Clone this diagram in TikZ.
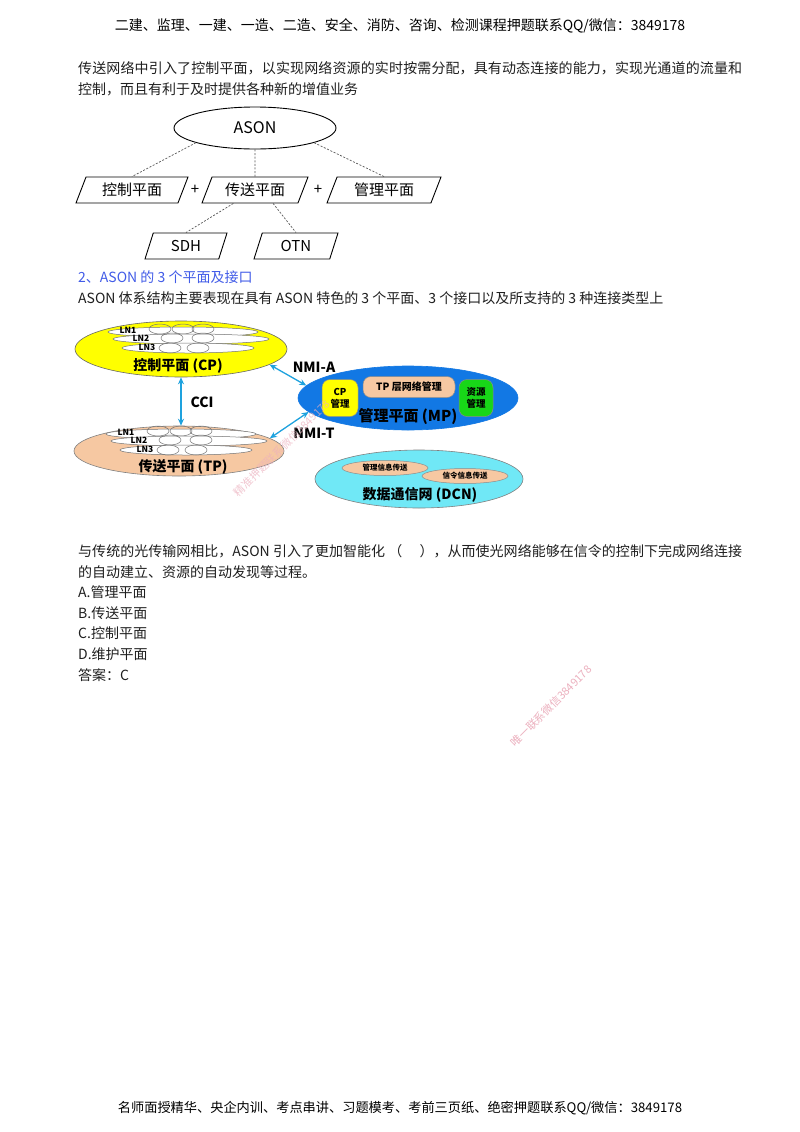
\documentclass[tikz,border=0pt]{standalone}
\usepackage{fontspec}
\setmainfont{Noto Sans CJK SC}
\usetikzlibrary{arrows.meta,shapes.geometric,calc}
\XeTeXlinebreaklocale "zh"
\XeTeXlinebreakskip=0pt plus 1pt

\definecolor{cpyellow}{RGB}{255,255,0}
\definecolor{tppeach}{RGB}{246,200,162}
\definecolor{mpblue}{RGB}{18,120,228}
\definecolor{resgreen}{RGB}{24,214,24}
\definecolor{dcncyan}{RGB}{112,232,246}
\definecolor{ifaceblue}{RGB}{30,162,222}
\definecolor{headblue}{RGB}{66,92,232}
\definecolor{wmpink}{RGB}{236,176,190}

\tikzset{
  headline/.style={inner sep=0pt, font=\fontsize{14bp}{14bp}\selectfont},
  bodytext/.style={anchor=west, inner sep=0pt, text=black!88,
    font=\fontsize{14bp}{21bp}\selectfont},
  plane/.style={draw, line width=0.9bp, trapezium, trapezium left angle=54,
    trapezium right angle=126, trapezium stretches body, minimum height=26bp,
    inner sep=0pt, font=\fontsize{15bp}{15bp}\selectfont},
  dashline/.style={draw=black!65, dash pattern=on 2bp off 1.6bp, line width=0.7bp},
  layer/.style={ellipse, draw=black!50, line width=0.6bp, inner sep=0pt},
  lnband/.style={fill=white, draw=black!55, line width=0.5bp},
  bubble/.style={draw=black!55, line width=0.5bp},
  lntag/.style={inner sep=0pt, font=\bfseries\fontsize{8.5bp}{8.5bp}\selectfont},
  planelabel/.style={inner sep=0pt, font=\bfseries\fontsize{14bp}{14bp}\selectfont},
  iface/.style={draw=ifaceblue, line width=1.3bp,
    {Stealth[length=7bp,width=6bp]}-{Stealth[length=7bp,width=6bp]}},
  subbox/.style={draw=black!45, line width=0.5bp, rounded corners=8bp, inner sep=0pt,
    align=center, font=\bfseries\fontsize{9.5bp}{12bp}\selectfont},
  msgtag/.style={ellipse, fill=tppeach, draw=black!45, line width=0.5bp, inner sep=0pt,
    font=\bfseries\fontsize{7.5bp}{7.5bp}\selectfont},
  watermark/.style={inner sep=0pt, text=wmpink, rotate=45,
    font=\fontsize{11bp}{11bp}\selectfont}
}

\newcommand{\lnbands}[3]{%
  \begin{scope}[shift={(#1,#2)}]
    \draw[lnband] (2,-17) ellipse (75 and 5);
    \draw[bubble] (-21,-20) ellipse (11 and 5);
    \draw[bubble] (2,-20) ellipse (11 and 5);
    \draw[bubble] (22,-20) ellipse (11 and 5);
    \draw[lnband] (10,-10) ellipse (78 and 5);
    \draw[bubble] (-9,-11) ellipse (11 and 5);
    \draw[bubble] (22,-11) ellipse (11 and 5);
    \draw[lnband] (7,-1) ellipse (66 and 5);
    \draw[bubble] (-11,-1) ellipse (11 and 5);
    \draw[bubble] (17,-1) ellipse (11 and 5);
    \node[lntag] (#31) at (-53,-19) {LN1};
    \node[lntag] (#32) at (-40,-10.5) {LN2};
    \node[lntag] (#33) at (-34,-1.5) {LN3};
  \end{scope}}

\begin{document}
\begin{tikzpicture}[x=1bp,y=-1bp]
  \fill[white] (0,0) rectangle (800,1132);

  \node[headline] (header) at (400,26)
    {二建、监理、一建、一造、二造、安全、消防、咨询、检测课程押题联系QQ/微信：3849178};
  \node[bodytext, text width=664bp, align=justify] (intro) at (78,78.5)
    {传送网络中引入了控制平面，以实现网络资源的实时按需分配，具有动态连接的能力，实现光通道的流量和\linebreak 控制，而且有利于及时提供各种新的增值业务};

  % ASON tree
  \node[ellipse, draw, line width=0.9bp, minimum width=162bp, minimum height=42bp,
    inner sep=0pt, font=\fontsize{16bp}{16bp}\selectfont] (ason) at (255,128) {ASON};
  \node[plane, minimum width=112bp] (ctrl) at (132,190) {控制平面};
  \node[plane, minimum width=106bp] (trans) at (255,190) {传送平面};
  \node[plane, minimum width=114bp] (mgmt) at (384,190) {管理平面};
  \node[plane, minimum width=82bp] (sdh) at (186,246) {SDH};
  \node[plane, minimum width=84bp] (otn) at (296,246) {OTN};
  \node[font=\fontsize{15bp}{15bp}\selectfont, inner sep=0pt] (plus1) at (195,190) {+};
  \node[font=\fontsize{15bp}{15bp}\selectfont, inner sep=0pt] (plus2) at (318,190) {+};
  \draw[dashline] (ason.-166) -- (ctrl.north);
  \draw[dashline] (ason.south) -- (trans.north);
  \draw[dashline] (ason.-14) -- (mgmt.north);
  \draw[dashline] ($(trans.bottom left corner)!0.33!(trans.bottom right corner)$) -- (sdh.north);
  \draw[dashline] ($(trans.bottom left corner)!0.74!(trans.bottom right corner)$) -- (otn.north);

  \node[bodytext, text=headblue] (sec2) at (78,277) {2、ASON 的 3 个平面及接口};
  \node[bodytext] (sec2txt) at (78,298)
    {ASON 体系结构主要表现在具有 ASON 特色的 3 个平面、3 个接口以及所支持的 3 种连接类型上};

  % three planes
  \node[layer, fill=cpyellow, draw=black!60, minimum width=212bp, minimum height=56bp] (cp) at (181,349) {};
  \lnbands{181}{349}{cpln}
  \node[planelabel] (cplabel) at (178,366) {控制平面 (CP)};

  \node[layer, fill=tppeach, minimum width=210bp, minimum height=50bp] (tp) at (179,451) {};
  \lnbands{179}{451}{tpln}
  \node[planelabel] (tplabel) at (183,467) {传送平面 (TP)};

  \node[layer, fill=mpblue, draw=mpblue, minimum width=220bp, minimum height=64bp] (mp) at (408,398) {};
  \node[subbox, fill=cpyellow, minimum width=36bp, minimum height=37bp] (cpmgr) at (340,398) {CP\\管理};
  \node[subbox, fill=tppeach, minimum width=92bp, minimum height=21bp,
    font=\bfseries\fontsize{10bp}{10bp}\selectfont] (tpmgr) at (409,387) {TP 层网络管理};
  \node[subbox, fill=resgreen, minimum width=34bp, minimum height=37bp] (resmgr) at (476,398) {资源\\管理};
  \node[planelabel, font=\bfseries\fontsize{15bp}{15bp}\selectfont] (mplabel) at (408,417) {管理平面 (MP)};

  \node[layer, fill=dcncyan, minimum width=208bp, minimum height=58bp] (dcn) at (419,479) {};
  \node[msgtag, minimum width=86bp, minimum height=15bp] (mgmtmsg) at (385,468) {管理信息传送};
  \node[msgtag, minimum width=86bp, minimum height=15bp] (sigmsg) at (465,476) {信令信息传送};
  \node[planelabel] (dcnlabel) at (420,495) {数据通信网 (DCN)};

  \draw[iface] (cp.south) -- (cp.south |- tp.north);
  \node[planelabel] (cci) at (202,402) {CCI};
  \draw[iface] (cp.-10) -- (mp.173);
  \node[planelabel] (nmia) at (314,367) {NMI-A};
  \draw[iface] (tp.8) -- (mp.188);
  \node[planelabel] (nmit) at (314,433) {NMI-T};

  % question
  \node[bodytext, text width=664bp, align=justify] (quest) at (78,561.5)
    {与传统的光传输网相比，ASON 引入了更加智能化 （\quad\ ），从而使光网络能够在信令的控制下完成网络连接\linebreak 的自动建立、资源的自动发现等过程。};
  \node[bodytext] (opta) at (78,592) {A.管理平面};
  \node[bodytext] (optb) at (78,613) {B.传送平面};
  \node[bodytext] (optc) at (78,633) {C.控制平面};
  \node[bodytext] (optd) at (78,654) {D.维护平面};
  \node[bodytext] (answer) at (78,675) {答案：C};

  \node[headline, font=\fontsize{13.2bp}{13.2bp}\selectfont] (footer) at (400,1108)
    {名师面授精华、央企内训、考点串讲、习题模考、考前三页纸、绝密押题联系QQ/微信：3849178};

  \node[watermark, opacity=0.7] (wmdiag) at (282,448) {精准押题联系微信3849178};
  \node[watermark] (wmpage) at (551,706) {唯一联系微信3849178};
\end{tikzpicture}
\end{document}
